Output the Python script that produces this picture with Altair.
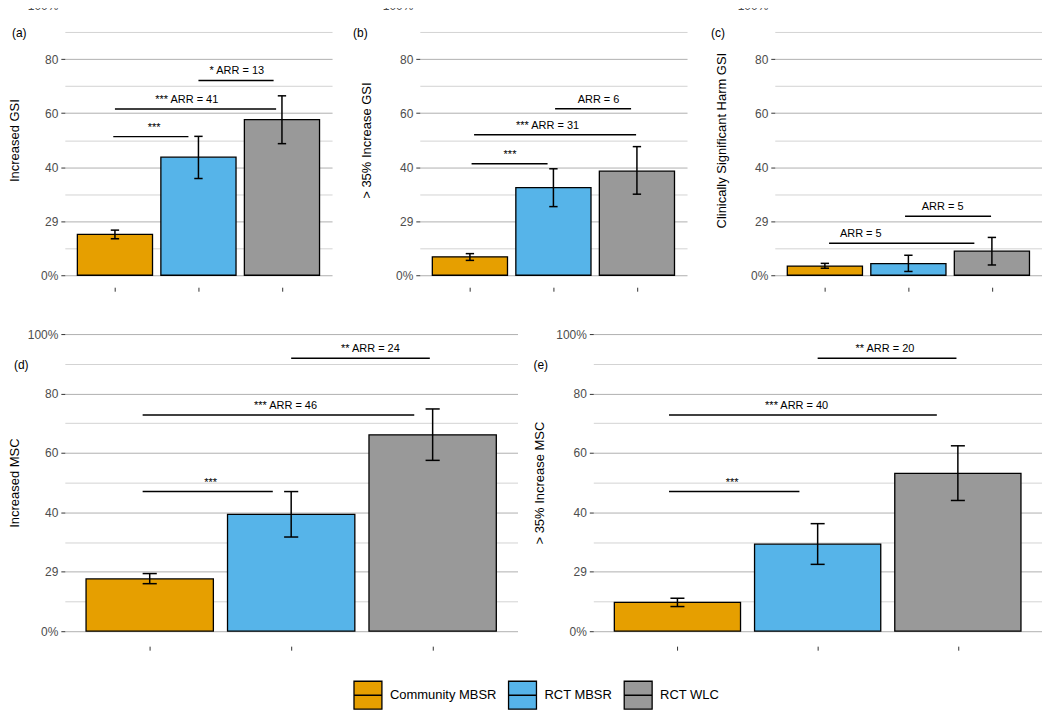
import altair as alt
import pandas as pd

# ---------------- data ----------------
groups = ["Community MBSR", "RCT MBSR", "RCT WLC"]
group_colors = ["#E69F00", "#56B4E9", "#999999"]
group_index = [0, 1, 2]

panel_tags = ["(a)", "(b)", "(c)", "(d)", "(e)"]
panel_titles = ["Increased GSI", "> 35% Increase GSI", "Clinically Significant Harm GSI",
                "Increased MSC", "> 35% Increase MSC"]

pct_a = [15.1, 43.7, 57.6]
lo_a = [13.5, 35.8, 48.7]
hi_a = [16.7, 51.4, 66.4]

pct_b = [6.8, 32.4, 38.5]
lo_b = [5.5, 25.4, 30.0]
hi_b = [8.0, 39.4, 47.6]

pct_c = [3.4, 4.3, 8.9]
lo_c = [2.6, 1.4, 3.8]
hi_c = [4.4, 7.4, 14.0]

pct_d = [17.6, 39.3, 66.1]
lo_d = [16.0, 31.7, 57.5]
hi_d = [19.4, 47.0, 74.8]

pct_e = [9.7, 29.3, 53.1]
lo_e = [8.3, 22.5, 44.0]
hi_e = [11.1, 36.2, 62.4]

# significance brackets: label, start / end (group units), height, label centre
cmp_label_a = ["***", "*** ARR = 41", "* ARR = 13"]
cmp_start_a = [-0.02, 0.0, 1.0]
cmp_end_a = [0.88, 1.93, 1.9]
cmp_y_a = [51.3, 61.5, 72.1]
cmp_tx_a = [0.47, 0.86, 1.46]

cmp_label_b = ["***", "*** ARR = 31", "ARR = 6"]
cmp_start_b = [0.02, 0.05, 1.02]
cmp_end_b = [0.93, 1.99, 1.93]
cmp_y_b = [41.3, 52.0, 61.6]
cmp_tx_b = [0.48, 0.93, 1.54]

cmp_label_c = ["ARR = 5", "ARR = 5"]
cmp_start_c = [0.05, 0.96]
cmp_end_c = [1.79, 1.99]
cmp_y_c = [11.8, 21.8]
cmp_tx_c = [0.43, 1.41]

cmp_label_d = ["***", "*** ARR = 46", "** ARR = 24"]
cmp_start_d = [-0.05, -0.05, 1.0]
cmp_end_d = [0.87, 1.87, 1.98]
cmp_y_d = [47.0, 72.8, 91.9]
cmp_tx_d = [0.43, 0.96, 1.56]

cmp_label_e = ["***", "*** ARR = 40", "** ARR = 20"]
cmp_start_e = [-0.06, -0.06, 1.0]
cmp_end_e = [0.87, 1.85, 1.99]
cmp_y_e = [47.0, 72.8, 91.9]
cmp_tx_e = [0.39, 0.85, 1.48]

tick_values = [0, 20, 40, 60, 80, 100]
tick_labels = ["0%", "29", "40", "60", "80", "100%"]
grid_values = [0, 10, 20, 30, 40, 50, 60, 70, 80, 90, 100]

FONT = "Liberation Sans"

label_expr = "".join(f"datum.value == {v} ? '{l}' : " for v, l in zip(tick_values, tick_labels)) + "''"
major_test = "indexof(" + str(tick_values) + ", datum.value) >= 0"


def panel(k, pct, lo, hi, labels, xs, xe, ys, tx, width, height, x_offset, tag_dx, tag_dy,
          title_pad, title_size, legend):
    bars = pd.DataFrame({"group": groups, "idx": group_index, "pct": pct, "lo": lo, "hi": hi})
    cmp = pd.DataFrame({"label": labels, "xs": xs, "xe": xe, "y": ys, "tx": tx})

    xscale = alt.Scale(domain=[-0.6, 2.6], nice=False, zero=False)
    yscale = alt.Scale(domain=[0, 100], nice=False, zero=False)
    xaxis = alt.Axis(values=group_index, labels=False, domain=False, grid=False, ticks=True,
                     tickSize=4, tickColor="#333333", tickWidth=1, offset=x_offset, title=None)
    yaxis = alt.Axis(values=grid_values, labelExpr=label_expr, grid=True,
                     gridColor={"condition": {"test": major_test, "value": "#b0b0b0"}, "value": "#d3d3d3"},
                     gridWidth=1,
                     tickOpacity={"condition": {"test": major_test, "value": 1}, "value": 0},
                     tickSize=4, tickColor="#333333", tickWidth=1, domain=False,
                     labelFontSize=12, labelColor="#4d4d4d", labelPadding=3, labelFont=FONT,
                     title=panel_titles[k], titleFontSize=title_size, titleFontWeight="normal",
                     titleColor="black", titlePadding=title_pad, titleFont=FONT)

    base = alt.Chart(bars)
    rect = base.transform_calculate(
        xl="datum.idx - 0.45", xr="datum.idx + 0.45", zero="0"
    ).mark_rect(stroke="black", strokeWidth=1.3).encode(
        x=alt.X("xl:Q", scale=xscale, axis=xaxis),
        x2="xr:Q",
        y=alt.Y("pct:Q", scale=yscale, axis=yaxis),
        y2="zero:Q",
        color=alt.Color("group:N", scale=alt.Scale(domain=groups, range=group_colors), legend=legend),
    )
    err = base.mark_rule(color="black", strokeWidth=1.5).encode(
        x=alt.X("idx:Q", scale=xscale, axis=xaxis),
        y=alt.Y("lo:Q", scale=yscale, axis=yaxis),
        y2="hi:Q",
    )
    caps = base.transform_fold(["lo", "hi"], as_=["end", "v"]).transform_calculate(
        cl="datum.idx - 0.05", cr="datum.idx + 0.05"
    ).mark_rule(color="black", strokeWidth=1.5).encode(
        x=alt.X("cl:Q", scale=xscale, axis=xaxis),
        x2="cr:Q",
        y=alt.Y("v:Q", scale=yscale, axis=yaxis),
    )
    cbase = alt.Chart(cmp)
    lines = cbase.mark_rule(color="black", strokeWidth=1.5).encode(
        x=alt.X("xs:Q", scale=xscale, axis=xaxis),
        x2="xe:Q",
        y=alt.Y("y:Q", scale=yscale, axis=yaxis),
    )
    texts = cbase.mark_text(fontSize=11, font=FONT, color="black", baseline="alphabetic", dy=-6).encode(
        x=alt.X("tx:Q", scale=xscale, axis=xaxis),
        y=alt.Y("y:Q", scale=yscale, axis=yaxis),
        text="label:N",
    )
    return alt.layer(rect, err, caps, lines, texts).properties(
        width=width, height=height,
        title=alt.TitleParams(panel_tags[k], anchor="start", frame="group", orient="top",
                              dx=tag_dx, dy=tag_dy, fontSize=12, fontWeight="normal",
                              baseline="middle", offset=0, color="black", font=FONT),
    )


legend_def = alt.Legend(orient="none", legendX=289, legendY=347, direction="horizontal", title=None,
                        symbolType="M-1,-1H1V1H-1Z M-1,0H1", symbolSize=784,
                        symbolStrokeColor="black", symbolStrokeWidth=1.3, symbolOpacity=1,
                        labelFontSize=13, labelFont=FONT, labelColor="black", labelOffset=7,
                        columnPadding=9, padding=0)

pa = panel(0, pct_a, lo_a, hi_a, cmp_label_a, cmp_start_a, cmp_end_a, cmp_y_a, cmp_tx_a,
           268, 271, 12, -53, 46, 6, 13, None)
pb = panel(1, pct_b, lo_b, hi_b, cmp_label_b, cmp_start_b, cmp_end_b, cmp_y_b, cmp_tx_b,
           268, 271, 12, -67, 46, 9, 13, None)
pc = panel(2, pct_c, lo_c, hi_c, cmp_label_c, cmp_start_c, cmp_end_c, cmp_y_c, cmp_tx_c,
           268, 271, 12, -64, 46, 9, 13, None)
pd_ = panel(3, pct_d, lo_d, hi_d, cmp_label_d, cmp_start_d, cmp_end_d, cmp_y_d, cmp_tx_d,
            454, 298, 15, -51, 49, 6, 13, legend_def)
pe = panel(4, pct_e, lo_e, hi_e, cmp_label_e, cmp_start_e, cmp_end_e, cmp_y_e, cmp_tx_e,
           450, 298, 15, -60, 49, 9, 13, None)

top = alt.hconcat(pa, pb, pc, spacing=88, bounds="flush").resolve_scale(color="independent")
bottom = alt.hconcat(pd_, pe, spacing=76, bounds="flush").resolve_scale(color="independent")

chart = alt.vconcat(top, bottom, spacing=36).resolve_scale(
    color="independent"
).properties(
    padding={"left": 0, "top": -10, "right": 0, "bottom": 0}
).configure(font=FONT).configure_view(stroke=None)

chart.save("out.html", embed_options={"renderer": "svg", "actions": False})
